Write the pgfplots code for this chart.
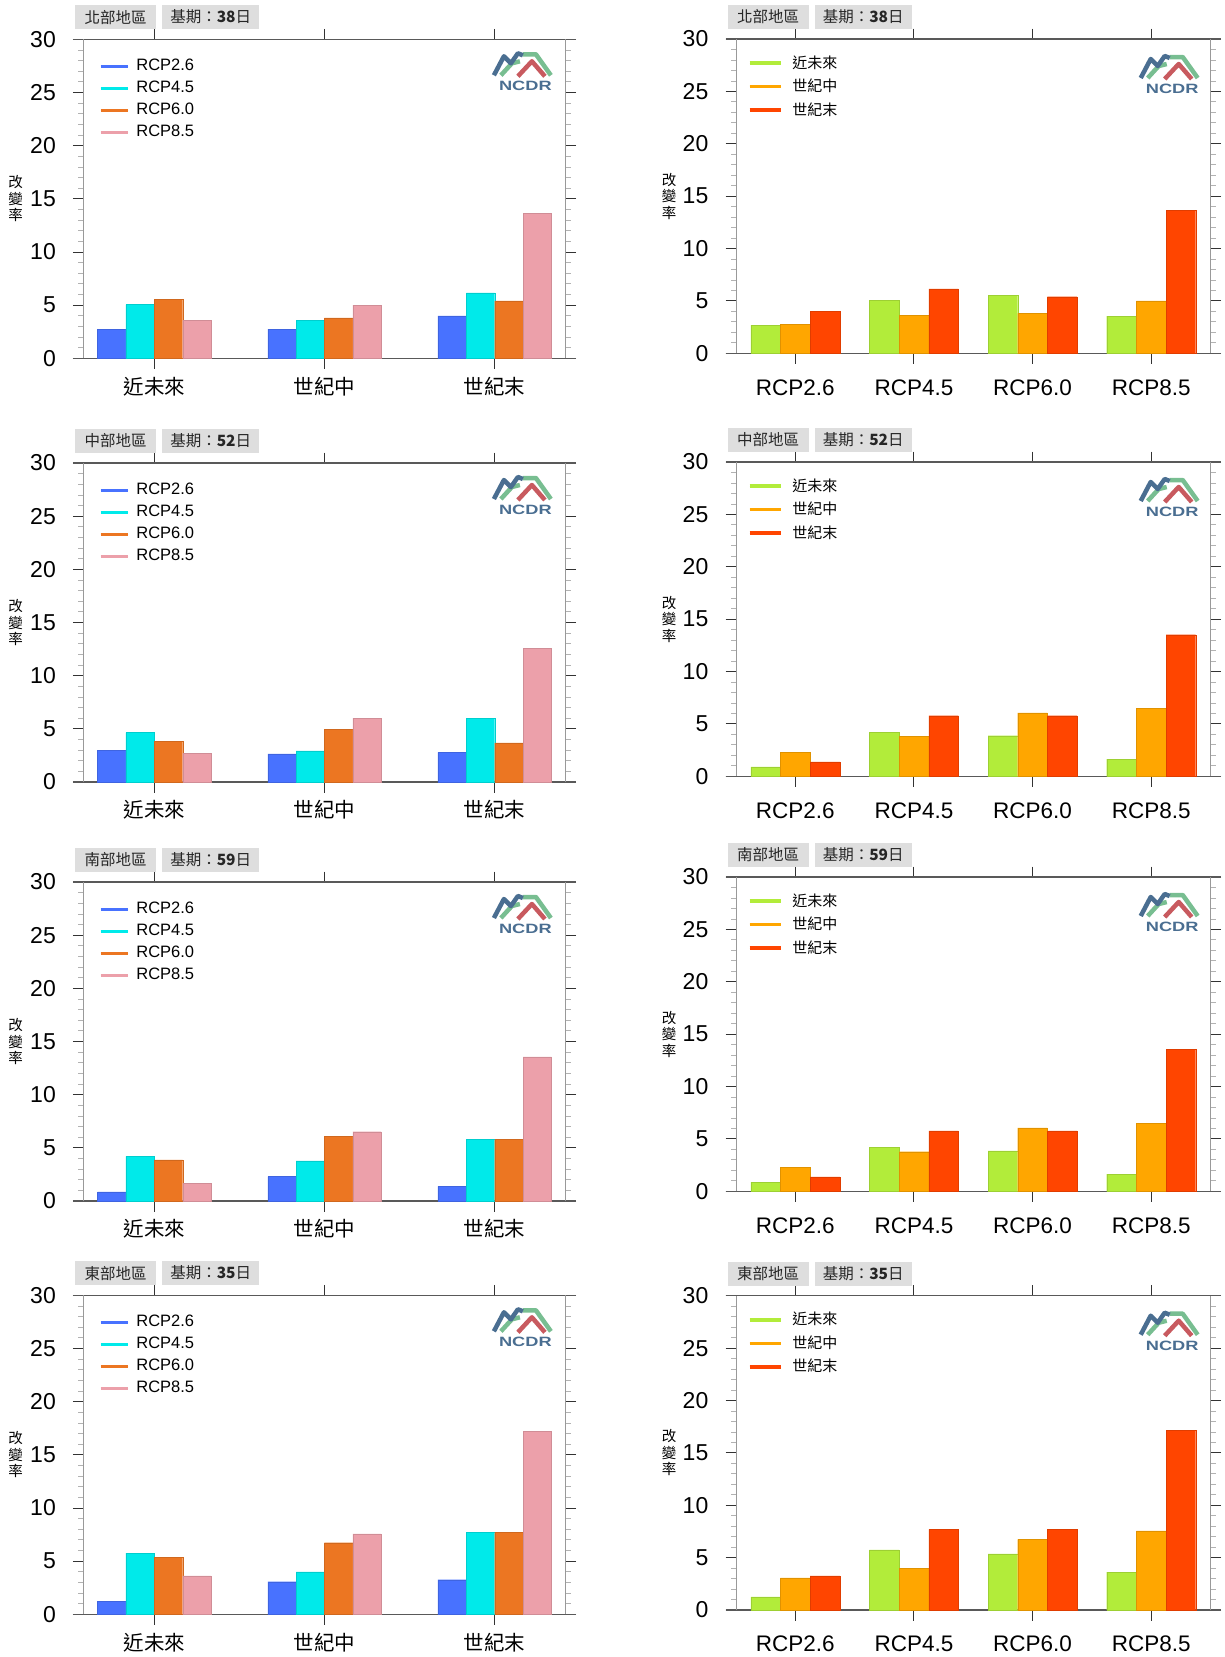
\documentclass[border=0pt]{standalone}
\usepackage{fontspec}
\setmainfont{Liberation Sans}
\newfontfamily\cjk{Noto Sans CJK TC}
\usepackage{pgfplots}
\usepackage{pgfplotstable}
\pgfplotsset{compat=1.18}

\definecolor{cA}{RGB}{72,114,255}
\definecolor{cB}{RGB}{0,234,234}
\definecolor{cC}{RGB}{236,118,34}
\definecolor{cD}{RGB}{236,160,170}
\definecolor{cG}{RGB}{178,236,58}
\definecolor{cO}{RGB}{255,166,0}
\definecolor{cR}{RGB}{255,69,0}
\definecolor{lblue}{RGB}{74,110,145}
\definecolor{lgreen}{RGB}{120,190,145}
\definecolor{lred}{RGB}{200,90,95}

% ---------- data: left panels (rows = periods, columns = RCP) ----------
\pgfplotstableread{
x a b c d
0 2.70 5.05 5.55 3.55
1 2.75 3.60 3.80 5.00
2 4.00 6.15 5.40 13.65
}\tNorthL
\pgfplotstableread{
x a b c d
0 3.00 4.65 3.80 2.70
1 2.65 2.92 4.94 6.01
2 2.78 5.97 3.68 12.55
}\tCentralL
\pgfplotstableread{
x a b c d
0 0.87 4.20 3.87 1.65
1 2.30 3.78 6.06 6.52
2 1.37 5.78 5.78 13.55
}\tSouthL
\pgfplotstableread{
x a b c d
0 1.25 5.75 5.36 3.61
1 3.07 4.00 6.74 7.56
2 3.26 7.69 7.69 17.18
}\tEastL
% ---------- data: right panels (rows = RCP, columns = periods) ----------
\pgfplotstableread{
x a b c
0 2.70 2.75 4.00
1 5.05 3.60 6.15
2 5.55 3.80 5.40
3 3.55 5.00 13.65
}\tNorthR
\pgfplotstableread{
x a b c
0 0.89 2.32 1.37
1 4.20 3.79 5.79
2 3.88 6.05 5.79
3 1.65 6.52 13.52
}\tMidR
\pgfplotstableread{
x a b c
0 0.87 2.30 1.37
1 4.20 3.78 5.78
2 3.87 6.06 5.78
3 1.65 6.52 13.55
}\tSouthR
\pgfplotstableread{
x a b c
0 1.25 3.07 3.26
1 5.75 4.00 7.69
2 5.36 6.74 7.69
3 3.61 7.56 17.18
}\tEastR

\pgfplotsset{
  base/.style={
    scale only axis,
    ymin=0, ymax=30, ytick={0,5,10,15,20,25,30}, minor y tick num=4,
    tick align=outside,
    major tick length=10.5pt, minor tick length=5pt,
    every major tick/.append style={black!80, line width=0.9pt},
    every minor tick/.append style={black!30, line width=0.8pt},
    separate axis lines,
    x axis line style={black!65, line width=1.1pt, shorten <=-10.5pt, shorten >=-10.5pt},
    y axis line style={black!40, line width=1pt},
    /pgf/number format/assume math mode=true,
    yticklabel style={font=\fontsize{23}{24}\selectfont, anchor=east, inner sep=0pt, xshift=-17pt},
    ylabel={改\\變\\率},
    ylabel style={rotate=-90, align=center, font=\cjk\fontsize{14.5}{16.5}\selectfont,
      at={(axis description cs:-0.141,0.5)}, anchor=center},
    legend cell align=left,
  },
  leftax/.style={base, width=482pt, height=319pt,
    xmin=-0.416, xmax=2.416, xtick={0,1,2},
    xticklabels={近未來,世紀中,世紀末},
    xticklabel style={font=\cjk\fontsize{20.5}{21}\selectfont, anchor=center, yshift=-17.5pt},
    legend style={draw=none, fill=none, inner sep=0pt,
      at={(axis description cs:0.0317,0.937)}, anchor=north west,
      font=\fontsize{16.5}{17}\selectfont,
      nodes={inner sep=0pt, text height=11pt, text depth=3pt},
      row sep=8pt, column sep=6.3pt},
  },
  rightax/.style={base, width=474.5pt, height=314.3pt,
    xmin=-0.5, xmax=3.5, xtick={0,1,2,3},
    xticklabels={RCP2.6,RCP4.5,RCP6.0,RCP8.5},
    xticklabel style={font=\fontsize{22.5}{23}\selectfont, anchor=center, yshift=-23.5pt},
    legend style={draw=none, fill=none, inner sep=0pt,
      at={(axis description cs:0.0247,0.949)}, anchor=north west,
      font=\cjk\fontsize{15}{16}\selectfont,
      nodes={inner sep=0pt, text height=13pt, text depth=3pt},
      row sep=7.5pt, column sep=10pt},
  },
  barL/.style 2 args={ybar, bar width=0.1667, bar shift=#2, fill=#1, draw=#1!88!black, line width=0.3pt,
    legend image code/.code={\draw[#1, line width=3.5pt] (0pt,0pt) -- (27.6pt,0pt);}},
  barR/.style 2 args={ybar, bar width=0.25, bar shift=#2, fill=#1, draw=#1!88!black, line width=0.3pt,
    legend image code/.code={\draw[#1, line width=3.5pt] (0pt,0pt) -- (31pt,0pt);}},
}

\tikzset{tagbox/.style={fill=black!13, minimum height=24pt, inner sep=0pt, anchor=south west,
  font=\cjk\fontsize{15.5}{16}\selectfont, text=black!85}}

\newcommand{\tags}[3]{%
  \node[tagbox, minimum width=81pt] at ([xshift=-8.5pt,yshift=10pt]#1.north west) {#2};
  \node[tagbox, minimum width=97pt] at ([xshift=78.5pt,yshift=10pt]#1.north west) {基期：{\bfseries #3}日};
}
\newcommand{\logo}[3]{%
  \begin{scope}[shift={([xshift=#2pt,yshift=-#3pt]#1.north east)}, x=1pt, y=-1pt, line width=4.5pt, line join=round]
    \draw[lgreen] (33,6) -- (46,6) -- (61,27);
    \draw[lgreen] (11,27) -- (22,15) -- (30,13);
    \draw[lred] (28,28) -- (42,13) -- (55,28);
    \draw[lblue] (4,27) -- (14,8) -- (21,15) -- (28,5) -- (33,7);
    \node[lblue, font=\bfseries\fontsize{13.5}{13.5}\selectfont, xscale=1.35, inner sep=0pt] at (35.5,38) {NCDR};
  \end{scope}}

\newcommand{\leftpanel}[6]{%
  \begin{axis}[leftax, name=#1, at={(#2pt,-#3pt)}, anchor=south west]
    \addplot[barL={cA}{-0.25}] table[x=x,y=a]{#4};
    \addplot[barL={cB}{-0.08333}] table[x=x,y=b]{#4};
    \addplot[barL={cC}{0.08333}] table[x=x,y=c]{#4};
    \addplot[barL={cD}{0.25}] table[x=x,y=d]{#4};
    \legend{RCP2.6,RCP4.5,RCP6.0,RCP8.5}
  \end{axis}
  \tags{#1}{#5}{#6}
  \logo{#1}{-75.6}{9}
}
\newcommand{\rightpanel}[6]{%
  \begin{axis}[rightax, name=#1, at={(#2pt,-#3pt)}, anchor=south west]
    \addplot[barR={cG}{-0.25}] table[x=x,y=a]{#4};
    \addplot[barR={cO}{0}] table[x=x,y=b]{#4};
    \addplot[barR={cR}{0.25}] table[x=x,y=c]{#4};
    \legend{近未來,世紀中,世紀末}
  \end{axis}
  \tags{#1}{#5}{#6}
  \logo{#1}{-73.8}{12}
}

\begin{document}
\begin{tikzpicture}
\path[use as bounding box] (0pt,0pt) rectangle (1225pt,-1657pt);
\leftpanel{pA}{83.5}{358.3}{\tNorthL}{北部地區}{38}
\rightpanel{pB}{736}{353.3}{\tNorthR}{北部地區}{38}
\leftpanel{pC}{83.5}{782}{\tCentralL}{中部地區}{52}
\rightpanel{pD}{736}{776.3}{\tMidR}{中部地區}{52}
\leftpanel{pE}{83.5}{1201}{\tSouthL}{南部地區}{59}
\rightpanel{pF}{736}{1191.3}{\tSouthR}{南部地區}{59}
\leftpanel{pG}{83.5}{1614.3}{\tEastL}{東部地區}{35}
\rightpanel{pH}{736}{1610}{\tEastR}{東部地區}{35}
\end{tikzpicture}
\end{document}
